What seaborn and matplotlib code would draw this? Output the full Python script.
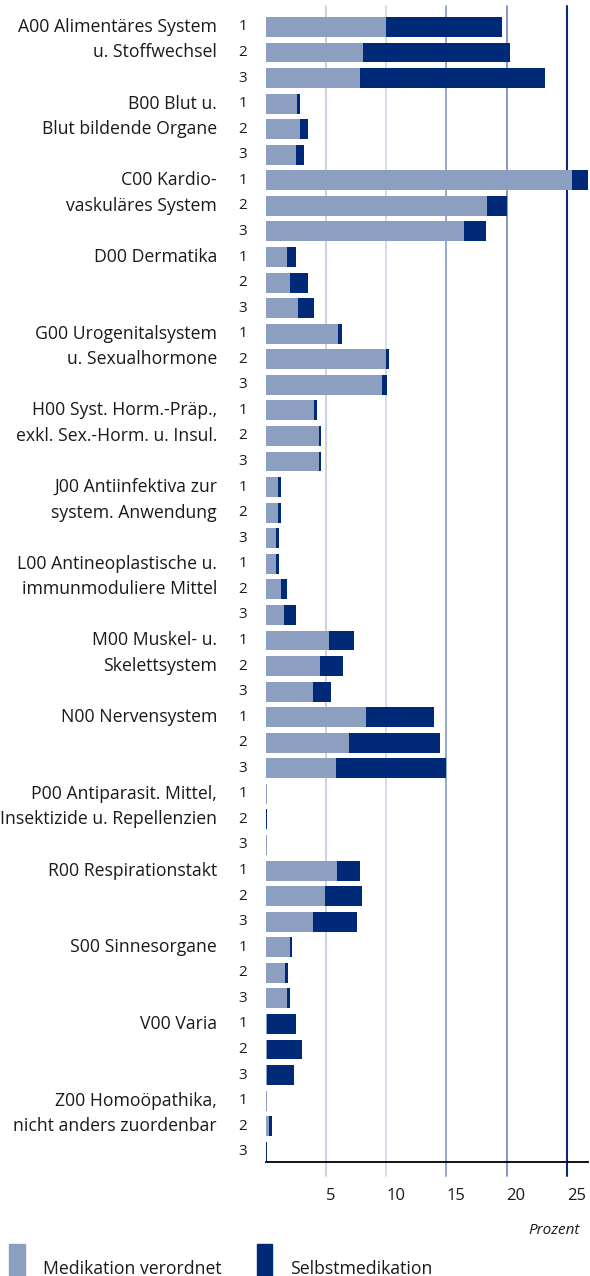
import pandas as pd
import matplotlib.pyplot as plt
import matplotlib.transforms as mtransforms
from matplotlib.patches import Rectangle
import seaborn as sns

# Data (percent)
groups = ["A00", "B00", "C00", "D00", "G00", "H00", "J00", "L00",
          "M00", "N00", "P00", "R00", "S00", "V00", "Z00"]
group_labels = [
    ["A00 Alimentäres System", "u. Stoffwechsel"],
    ["B00 Blut u.", "Blut bildende Organe"],
    ["C00 Kardio-", "vaskuläres System"],
    ["D00 Dermatika"],
    ["G00 Urogenitalsystem", "u. Sexualhormone"],
    ["H00 Syst. Horm.-Präp.,", "exkl. Sex.-Horm. u. Insul."],
    ["J00 Antiinfektiva zur", "system. Anwendung"],
    ["L00 Antineoplastische u.", "immunmoduliere Mittel"],
    ["M00 Muskel- u.", "Skelettsystem"],
    ["N00 Nervensystem"],
    ["P00 Antiparasit. Mittel,", "Insektizide u. Repellenzien"],
    ["R00 Respirationstakt"],
    ["S00 Sinnesorgane"],
    ["V00 Varia"],
    ["Z00 Homoöpathika,", "nicht anders zuordenbar"],
]
sub_rows = ["1", "2", "3"]

verordnet = [
    10.0, 8.1, 7.8,
    2.65, 2.9, 2.5,
    25.45, 18.4, 16.45,
    1.75, 2.05, 2.7,
    6.0, 10.0, 9.65,
    4.05, 4.4, 4.4,
    1.07, 1.07, 0.9,
    0.9, 1.25, 1.5,
    5.3, 4.55, 3.95,
    8.35, 6.95, 5.85,
    0.1, 0.0, 0.1,
    5.9, 4.9, 3.95,
    2.0, 1.65, 1.75,
    0.1, 0.1, 0.1,
    0.1, 0.25, 0.0,
]
selbst = [
    9.6, 12.15, 15.4,
    0.25, 0.6, 0.7,
    1.35, 1.6, 1.8,
    0.8, 1.5, 1.35,
    0.35, 0.25, 0.45,
    0.25, 0.2, 0.2,
    0.23, 0.23, 0.25,
    0.25, 0.55, 1.0,
    2.05, 1.9, 1.5,
    5.6, 7.5, 9.15,
    0.0, 0.15, 0.0,
    1.95, 3.1, 3.65,
    0.2, 0.25, 0.25,
    2.45, 2.95, 2.3,
    0.0, 0.25, 0.1,
]

keys = [f"{g}-{r}" for g in groups for r in sub_rows]
df = pd.DataFrame({"key": keys, "verordnet": verordnet, "selbst": selbst})
df["total"] = df["verordnet"] + df["selbst"]

light = "#8c9fc1"
dark = "#002a78"
text_col = "#1a1a1a"

sns.set_style("white")
plt.rcParams["font.family"] = ["Open Sans", "DejaVu Sans"]

W, H = 590, 1276
fig = plt.figure(figsize=(W / 100, H / 100), dpi=100)
ax_left, ax_right, ax_top, ax_bottom = 265.5, 588, 5.7, 1162
ax = fig.add_axes([ax_left / W, (H - ax_bottom) / H,
                   (ax_right - ax_left) / W, (ax_bottom - ax_top) / H])

# stacked bars: total (dark) first, then the prescribed share on top
sns.barplot(data=df, x="total", y="key", order=keys, color=dark,
            saturation=1, width=0.78, errorbar=None, orient="h", ax=ax,
            linewidth=0, zorder=3)
sns.barplot(data=df, x="verordnet", y="key", order=keys, color=light,
            saturation=1, width=0.78, errorbar=None, orient="h", ax=ax,
            linewidth=0, zorder=4)

ax.set_xlim(0, 26.75)
ax.set_ylim(44.4, -0.83)

# vertical grid lines, getting darker to the right
grid_cols = ["#c8cde0", "#d2d7e7", "#8fa2c8", "#7b8fc2", "#0a2a78"]
grid_lw = [1.3, 1.3, 1.3, 1.3, 1.5]
ext = 14 / (ax_bottom - ax_top)
for xv, c, lw in zip([5, 10, 15, 20, 25], grid_cols, grid_lw):
    ax.axvline(xv, ymin=-ext, ymax=1, color=c, lw=lw, zorder=1, clip_on=False)

for s in ["top", "right", "left"]:
    ax.spines[s].set_visible(False)
ax.spines["bottom"].set_color("black")
ax.spines["bottom"].set_linewidth(1.3)
ax.spines["bottom"].set_zorder(5)

ax.set_yticks([])
ax.set_ylabel("")
ax.set_xlabel("")
ax.set_xticks([5, 10, 15, 20, 25])
ax.set_xticklabels(["5", "10", "15", "20", "25"], ha="left")
ax.tick_params(axis="x", length=0, pad=19, labelsize=12, colors=text_col)

# row labels
trans = mtransforms.blended_transform_factory(fig.transFigure, ax.transData)
for gi, lines in enumerate(group_labels):
    for li, line in enumerate(lines):
        ax.text(217 / W, gi * 3 + li, line, transform=trans, ha="right",
                va="center", fontsize=12.7, color=text_col)
    for ri, r in enumerate(sub_rows):
        ax.text(243 / W, gi * 3 + ri, r, transform=trans, ha="center",
                va="center", fontsize=11, color=text_col)

fig.text(580 / W, (H - 1230) / H, "Prozent", ha="right", va="center",
         fontsize=11, style="italic", color=text_col)

# legend
fig.patches.append(Rectangle((9 / W, 0), 16 / W, 32 / H, transform=fig.transFigure,
                             color=light, figure=fig))
fig.patches.append(Rectangle((257 / W, 0), 15 / W, 32 / H, transform=fig.transFigure,
                             color=dark, figure=fig))
fig.text(43 / W, 2 / H, "Medikation verordnet", ha="left", va="baseline",
         fontsize=12.7, color=text_col)
fig.text(290 / W, 2 / H, "Selbstmedikation", ha="left", va="baseline",
         fontsize=12.7, color=text_col)

fig.savefig("out.png", dpi=100)
